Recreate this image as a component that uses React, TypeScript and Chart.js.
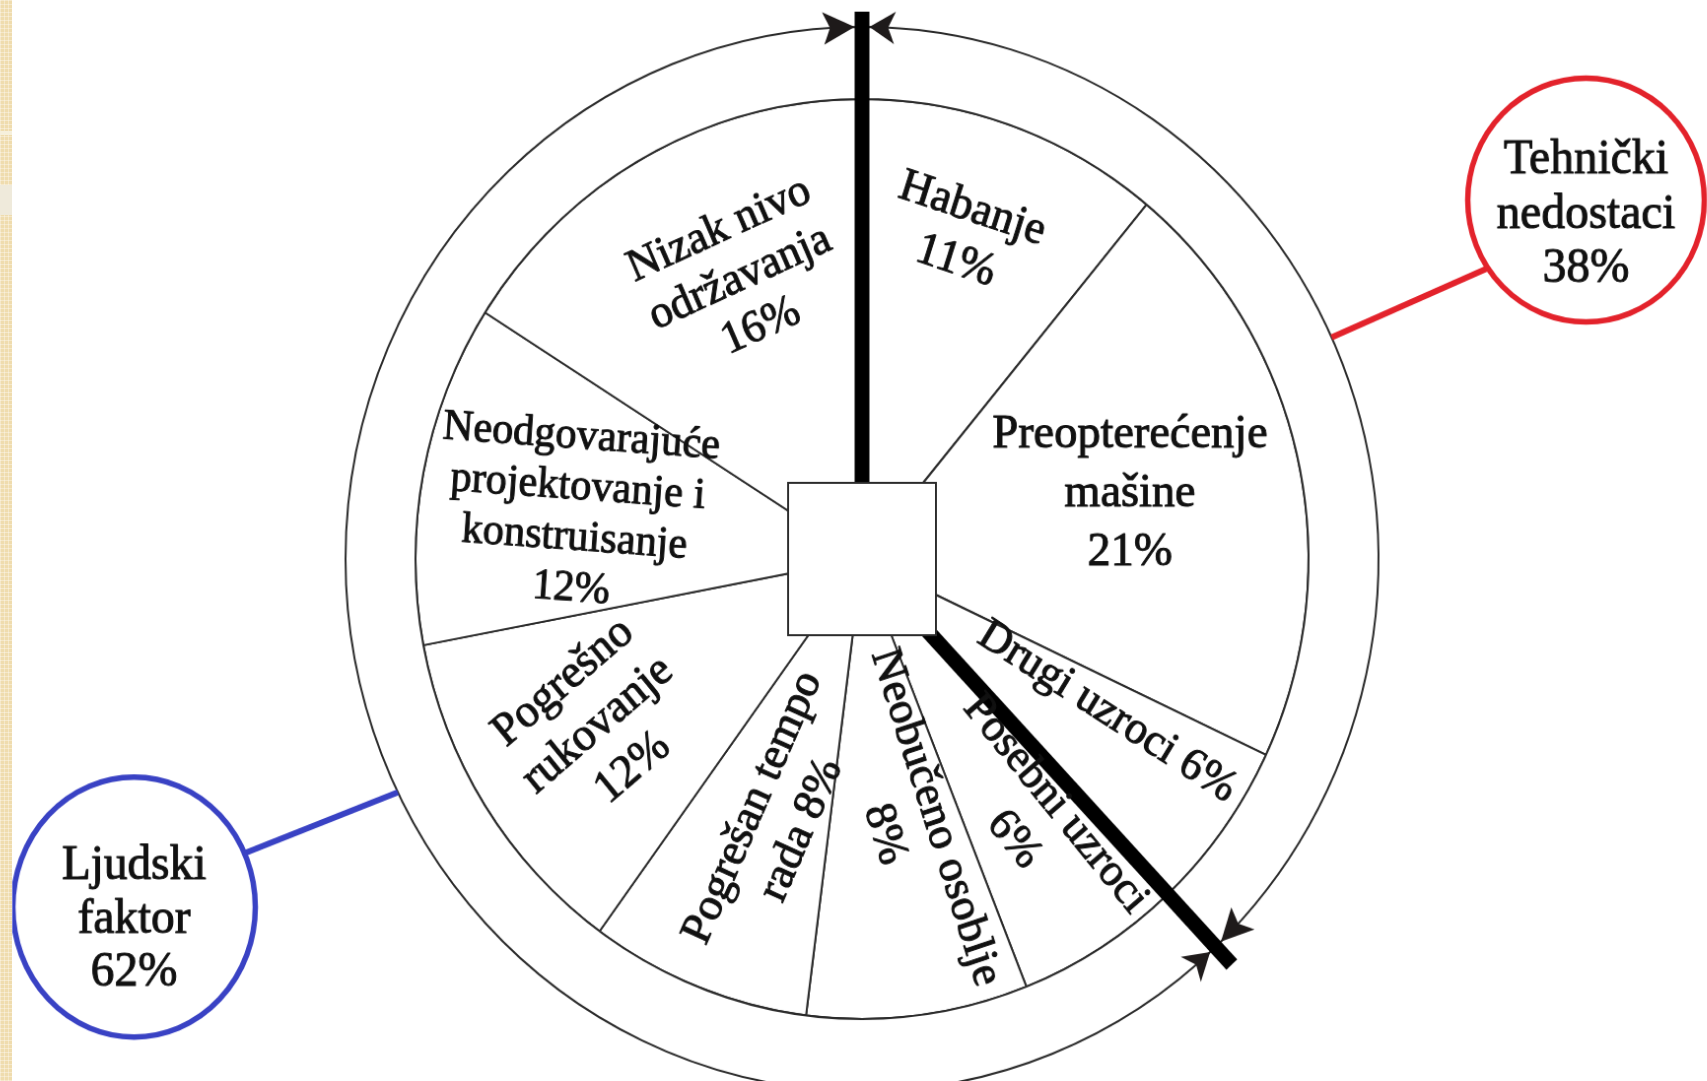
import React, { useEffect, useRef } from "react";
import { Chart, registerables } from "chart.js";

Chart.register(...registerables);

// ---------------- data ----------------
const categories = [
  "Habanje",
  "Preopterećenje mašine",
  "Drugi uzroci",
  "Posebni uzroci",
  "Neobučeno osoblje",
  "Pogrešan tempo rada",
  "Pogrešno rukovanje",
  "Neodgovarajuće projektovanje i konstruisanje",
  "Nizak nivo održavanja",
];
const values = [11, 21, 6, 6, 8, 8, 12, 12, 16];
const labelLines = [
  ["Habanje", "{v}%"],
  ["Preopterećenje", "mašine", "{v}%"],
  ["Drugi uzroci {v}%"],
  ["Posebni uzroci", "{v}%"],
  ["Neobučeno osoblje", "{v}%"],
  ["Pogrešan tempo", "rada {v}%"],
  ["Pogrešno", "rukovanje", "{v}%"],
  ["Neodgovarajuće", "projektovanje i", "konstruisanje", "{v}%"],
  ["Nizak nivo", "održavanja", "{v}%"],
];
const groupNames = ["Tehnički nedostaci", "Ljudski faktor"];
const groupValues = [38, 62];
const groupLines = [
  ["Tehnički", "nedostaci", "{v}%"],
  ["Ljudski", "faktor", "{v}%"],
];

// ---------------- layout / style ----------------
const CANVAS_W = 1730;
const CANVAS_H = 1118;
const OUTER_R = 524;
const RING_WEIGHT = 71;
const PIE_WEIGHT = 453;
const SQUARE_HALF = 75;
const LINE_COLOR = "#2b2b2b";
const FONT_FAMILY = '"Liberation Serif", "Times New Roman", serif';
const CALLOUT_FONT = `48px ${FONT_FAMILY}`;
const labelLayout = [
  { r: 0.74, da: -1.8, rot: 18, lh: 54, fs: 46 },
  { r: 0.617, da: -0.8, rot: 0, lh: 58, fs: 47 },
  { r: 0.642, da: -4.8, rot: 32, lh: 54, fs: 45 },
  { r: 0.69, da: -1.7, rot: 50, lh: 55, fs: 45 },
  { r: 0.59, da: -3.3, rot: 72, lh: 54, fs: 45 },
  { r: 0.596, da: -3.0, rot: -66, lh: 54, fs: 45 },
  { r: 0.693, da: 1.0, rot: -40, lh: 55, fs: 46 },
  { r: 0.648, da: -1.9, rot: 4, lh: 50, fs: 43 },
  { r: 0.669, da: 4.7, rot: -24, lh: 52, fs: 45 },
];
const thickExt = [15, 24];
const calloutLayout = [
  { color: "#e3222b", cx: 1596.5, cy: 205.5, rx: 120, ry: 120, ringDa: -3, edgeAngle: 146, baselines: [-27, 27, 80] },
  { color: "#3942c4", cx: 123.5, cy: 901.7, rx: 123, ry: 128, ringDa: -4.4, edgeAngle: -24.4, baselines: [-28, 25, 77] },
];

const deg = Math.PI / 180;

const overlayPlugin = {
  id: "overlay",
  afterDatasetsDraw(chart: any) {
    const ctx: CanvasRenderingContext2D = chart.ctx;
    const ringMeta = chart.getDatasetMeta(0);
    const pieMeta = chart.getDatasetMeta(1);
    const ring0 = ringMeta.data[0].getProps(["x", "y", "outerRadius", "innerRadius"], true);
    const cx = ring0.x;
    const cy = ring0.y;
    const R = ring0.outerRadius;
    const pieR = pieMeta.data[0].getProps(["outerRadius"], true).outerRadius;

    const boundaries = ringMeta.data.map((a: any) => a.getProps(["startAngle"], true).startAngle);

    // thick lines
    ctx.save();
    ctx.strokeStyle = "#000";
    ctx.lineWidth = 15;
    ctx.lineCap = "butt";
    boundaries.forEach((th: number, i: number) => {
      const L = R + thickExt[i];
      ctx.beginPath();
      ctx.moveTo(cx, cy);
      ctx.lineTo(cx + L * Math.cos(th), cy + L * Math.sin(th));
      ctx.stroke();
    });
    ctx.restore();

    // central square
    ctx.save();
    ctx.fillStyle = "#fff";
    ctx.fillRect(cx - SQUARE_HALF, cy - SQUARE_HALF, SQUARE_HALF * 2, SQUARE_HALF * 2);
    ctx.strokeStyle = LINE_COLOR;
    ctx.lineWidth = 2;
    ctx.strokeRect(cx - SQUARE_HALF, cy - SQUARE_HALF, SQUARE_HALF * 2, SQUARE_HALF * 2);
    ctx.restore();

    // arrowheads on the outer circle
    ctx.save();
    ctx.fillStyle = "#1e1a1a";
    boundaries.forEach((th: number) => {
      [-1, 1].forEach((s) => {
        const half = 7.5;
        const len = s < 0 ? 32 : 26;
        const pt = (ang: number, rr: number) => [cx + rr * Math.cos(ang), cy + rr * Math.sin(ang)];
        const tip = pt(th + (s * half) / R, R);
        const phiB = th + (s * (half + len)) / R;
        const b1 = pt(phiB, R + 16);
        const b2 = pt(phiB, R - 16);
        const notch = pt(th + (s * (half + len - 7)) / R, R);
        ctx.beginPath();
        ctx.moveTo(tip[0], tip[1]);
        ctx.lineTo(b1[0], b1[1]);
        ctx.lineTo(notch[0], notch[1]);
        ctx.lineTo(b2[0], b2[1]);
        ctx.closePath();
        ctx.fill();
      });
    });
    ctx.restore();

    // slice labels
    ctx.save();
    ctx.fillStyle = "#111";
    ctx.strokeStyle = "#111";
    ctx.lineWidth = 1.0;
    ctx.lineJoin = "round";
    ctx.textAlign = "center";
    ctx.textBaseline = "middle";
    pieMeta.data.forEach((arc: any, i: number) => {
      const p = arc.getProps(["startAngle", "endAngle"], true);
      const lay = labelLayout[i];
      const mid = (p.startAngle + p.endAngle) / 2 + lay.da * deg;
      const rr = lay.r * pieR;
      const x = cx + rr * Math.cos(mid);
      const y = cy + rr * Math.sin(mid);
      const lines = labelLines[i].map((t) => t.replace("{v}", String(values[i])));
      ctx.font = `${lay.fs}px ${FONT_FAMILY}`;
      ctx.save();
      ctx.translate(x, y);
      ctx.rotate(lay.rot * deg);
      lines.forEach((t, k) => {
        const yy = (k - (lines.length - 1) / 2) * lay.lh;
        ctx.fillText(t, 0, yy);
        ctx.strokeText(t, 0, yy);
      });
      ctx.restore();
    });
    ctx.restore();

    // callouts
    ringMeta.data.forEach((arc: any, i: number) => {
      const p = arc.getProps(["startAngle", "endAngle"], true);
      const c = calloutLayout[i];
      const ang = (p.startAngle + p.endAngle) / 2 + c.ringDa * deg;
      const sx = cx + R * Math.cos(ang);
      const sy = cy + R * Math.sin(ang);
      const ex = c.cx + c.rx * Math.cos(c.edgeAngle * deg);
      const ey = c.cy + c.ry * Math.sin(c.edgeAngle * deg);
      ctx.save();
      ctx.strokeStyle = c.color;
      ctx.lineWidth = 6;
      ctx.beginPath();
      ctx.moveTo(sx, sy);
      ctx.lineTo(ex, ey);
      ctx.stroke();
      ctx.beginPath();
      ctx.ellipse(c.cx, c.cy, c.rx, c.ry, 0, 0, Math.PI * 2);
      ctx.fillStyle = "#fff";
      ctx.fill();
      ctx.lineWidth = 5.5;
      ctx.stroke();
      ctx.font = CALLOUT_FONT;
      ctx.fillStyle = "#111";
      ctx.strokeStyle = "#111";
      ctx.lineWidth = 1.0;
      ctx.lineJoin = "round";
      ctx.textAlign = "center";
      ctx.textBaseline = "alphabetic";
      const lines = groupLines[i].map((t) => t.replace("{v}", String(groupValues[i])));
      lines.forEach((t, k) => {
        ctx.fillText(t, c.cx, c.cy + c.baselines[k]);
        ctx.strokeText(t, c.cx, c.cy + c.baselines[k]);
      });
      ctx.restore();
    });
  },
};

export default function App() {
  const canvasRef = useRef<HTMLCanvasElement | null>(null);

  useEffect(() => {
    if (!canvasRef.current) return;
    const chart = new Chart(canvasRef.current, {
      type: "doughnut",
      data: {
        labels: categories,
        datasets: [
          {
            label: "Grupe",
            data: groupValues,
            backgroundColor: "#ffffff",
            borderColor: LINE_COLOR,
            borderWidth: 2,
            weight: RING_WEIGHT,
          } as any,
          {
            label: "Uzroci",
            data: values,
            backgroundColor: "#ffffff",
            borderColor: LINE_COLOR,
            borderWidth: 2,
            weight: PIE_WEIGHT,
          } as any,
        ],
      },
      options: {
        responsive: false,
        animation: false,
        events: [],
        cutout: 0,
        radius: OUTER_R,
        rotation: 0,
        layout: { padding: { left: 0, right: 6, top: 0, bottom: 0 } },
        plugins: {
          legend: { display: false },
          tooltip: { enabled: false },
        },
      } as any,
      plugins: [overlayPlugin],
    });
    return () => chart.destroy();
  }, []);

  return (
    <div
      style={{
        position: "fixed",
        left: 0,
        top: 0,
        width: 1707,
        height: 1081,
        overflow: "hidden",
        background: "#ffffff",
      }}
    >
      <div
        style={{
          position: "absolute",
          left: 0,
          top: 0,
          width: CANVAS_W,
          height: CANVAS_H,
          transform: "scale(0.9857, 1.0155)",
          transformOrigin: "862px 559px",
        }}
      >
        <canvas
          ref={canvasRef}
          width={CANVAS_W}
          height={CANVAS_H}
          style={{ display: "block", width: CANVAS_W, height: CANVAS_H }}
        />
      </div>
      <div
        style={{
          position: "absolute",
          left: 0,
          top: 0,
          width: 12,
          height: 1081,
          backgroundColor: "#efdcae",
          backgroundImage:
            "linear-gradient(90deg, rgba(255,255,255,0.35) 1px, transparent 1px), linear-gradient(rgba(255,255,255,0.35) 1px, transparent 1px)",
          backgroundSize: "4px 4px",
        }}
      />
      <div style={{ position: "absolute", left: 0, top: 131, width: 12, height: 4, background: "#f6f0dc" }} />
      <div style={{ position: "absolute", left: 0, top: 185, width: 12, height: 30, background: "#efeadb" }} />
    </div>
  );
}
